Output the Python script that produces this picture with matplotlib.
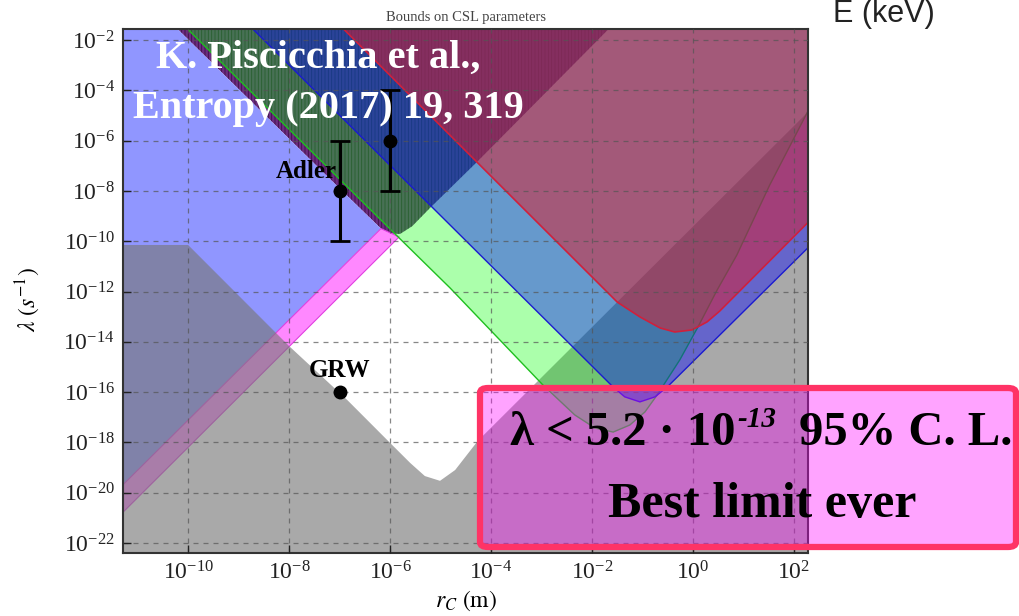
import numpy as np
import matplotlib.pyplot as plt
from matplotlib.patches import FancyBboxPatch

plt.rcParams["font.family"] = "serif"
plt.rcParams["font.serif"] = ["Liberation Serif", "DejaVu Serif"]
plt.rcParams["mathtext.fontset"] = "stix"
plt.rcParams["hatch.linewidth"] = 0.6

# region boundaries, log10 r_C (m) / log10 lambda (1/s)
interf_logr = [-11.0, -7.0, -6.18, -6.0, -5.8, -5.56, -5.21, -4.28, -0.9]
interf_logl = [0.0, -7.9, -9.5, -9.7, -9.71, -9.4, -8.68, -6.85, 0.0]
xray_old_logr = [-12.0, -11.0, -7.0, -6.18, -12.0]
xray_old_logl = [0.0, 0.0, -7.9, -9.5, -21.1]
xray_new_logr = [-12.0, -6.18, -5.82, -12.0]
xray_new_logl = [-21.1, -9.5, -9.83, -22.2]
theory_logr = [-12.0, -10.0, -8.0, -6.85, -6.02, -5.6, -5.31, -5.01, -4.71, -4.26, 3.0, 3.0, -12.0]
theory_logl = [-10.15, -10.15, -14.17, -16.31, -17.98, -18.82, -19.34, -19.53, -19.1, -17.94, -3.42, -24.0, -24.0]
auriga_logr = [-10.8, -5.84, -4.81, -2.97, -2.34, -1.94, -1.58, -1.25, -0.95, -0.71, -0.26,
               0.10, 0.48, 0.87, 1.52, 2.26, 3.0, 3.0]
auriga_logl = [0.0, -9.83, -11.86, -15.72, -16.91, -17.43, -17.59, -17.31, -16.79, -16.12, -14.72,
               -13.41, -11.94, -10.55, -7.77, -4.90, -1.94, 0.0]
ligo_logr = [-9.5, -1.58, -1.35, -1.05, -0.75, -0.51, 3.0, 3.0]
ligo_logl = [0.0, -15.8, -16.19, -16.39, -16.19, -15.8, -8.83, 0.0]
lisa_logr = [-7.7, -4.28, -1.5, -1.05, -0.65, -0.36, -0.02, 0.28, 0.53, 3.0, 3.0]
lisa_logl = [0.0, -6.85, -12.42, -13.01, -13.45, -13.61, -13.53, -13.21, -12.78, -7.8, 0.0]

adler_rc = [1e-7, 1e-6]
adler_lam = [1e-8, 1e-6]
adler_lo = [1e-10, 1e-8]
adler_hi = [1e-6, 1e-4]
grw_rc = [1e-7]
grw_lam = [1e-16]

xtick_exp = [-10, -8, -6, -4, -2, 0, 2]
ytick_exp = [-22, -20, -18, -16, -14, -12, -10, -8, -6, -4, -2]


def region(ax, logr, logl, **kw):
    ax.fill(10.0 ** np.array(logr), 10.0 ** np.array(logl), **kw)


W, H = 1019, 616
fig = plt.figure(figsize=(W / 100, H / 100), dpi=100)
ax = fig.add_axes([123 / W, 1 - 553 / H, 685 / W, 524 / H])
ax.set_xscale("log")
ax.set_yscale("log")

region(ax, interf_logr, interf_logl, facecolor="#6c2c80", edgecolor="none")
region(ax, interf_logr, interf_logl, facecolor="none", edgecolor=(0.15, 0.02, 0.18, 0.7),
       hatch="|||||", linewidth=0)
region(ax, xray_old_logr, xray_old_logl, facecolor="#9096ff", edgecolor="none")
region(ax, xray_new_logr, xray_new_logl, facecolor="#ff88ff", edgecolor="#e040e0", linewidth=0.8)
region(ax, theory_logr, theory_logl, facecolor=(0.467, 0.467, 0.467, 0.63), edgecolor="none")
region(ax, auriga_logr, auriga_logl, facecolor=(0, 1, 0, 0.33), edgecolor="#1fbf1f", linewidth=1.0)
region(ax, ligo_logr, ligo_logl, facecolor=(0, 0, 1, 0.4), edgecolor="#1a1ad0", linewidth=1.0)
region(ax, lisa_logr, lisa_logl, facecolor=(0.878, 0.106, 0.157, 0.5), edgecolor="#d0203c", linewidth=1.2)

yerr = [np.array(adler_lam) - np.array(adler_lo), np.array(adler_hi) - np.array(adler_lam)]
ax.errorbar(adler_rc, adler_lam, yerr=yerr, fmt="o", color="black", ms=9, elinewidth=2.2,
            capsize=7, capthick=2, zorder=5)
ax.plot(grw_rc, grw_lam, "o", color="black", ms=9, zorder=5)
ax.text(10 ** -7.05, 10 ** -7.5, "Adler", fontsize=18, fontweight="bold", ha="right", va="baseline", zorder=6)
ax.text(1e-7, 10 ** -15.4, "GRW", fontsize=18, fontweight="bold", ha="center", va="baseline", zorder=6)

ax.set_xlim(10 ** -11.29, 10 ** 2.28)
ax.set_ylim(10 ** -22.4, 10 ** -1.56)
ax.set_xticks([10.0 ** e for e in xtick_exp])
ax.set_yticks([10.0 ** e for e in ytick_exp])
ax.minorticks_off()
ax.tick_params(direction="in", length=6, width=1, labelsize=17, colors="#222222", pad=6)
ax.set_axisbelow(False)
ax.grid(True, color="#555555", linestyle=(0, (4, 4)), linewidth=0.9, alpha=0.7)
for s in ax.spines.values():
    s.set_color("#333333")
    s.set_linewidth(1.5)

fig.text(466 / W, 1 - 17 / H, "Bounds on CSL parameters", fontsize=10.5, color="#444444",
         ha="center", va="center")
fig.text(833 / W, 1 - 22 / H, "E (keV)", family="Liberation Sans", fontsize=22,
         color="#222222", ha="left", va="baseline")
fig.text(28 / W, 1 - 300 / H, r"$\lambda\ (s^{-1})$", rotation=90, fontsize=17,
         ha="center", va="center")
fig.text(466 / W, 1 - 601 / H, r"$r_C\ (\mathrm{m})$", fontsize=17, ha="center", va="center")

fig.text(318 / W, 1 - 68 / H, "K. Piscicchia et al.,", fontsize=29, fontweight="bold",
         color="white", ha="center", va="baseline", zorder=6)
fig.text(328 / W, 1 - 118 / H, "Entropy (2017) 19, 319", fontsize=29, fontweight="bold",
         color="white", ha="center", va="baseline", zorder=6)

box = FancyBboxPatch((480 / W, 1 - 547 / H), 536 / W, 159 / H,
                     boxstyle="round,pad=0,rounding_size=0.008", transform=fig.transFigure,
                     facecolor=(1, 0, 1, 0.36), edgecolor="#ff3366", linewidth=4.5, zorder=3)
fig.add_artist(box)
fig.text(510 / W, 1 - 445 / H, "λ < 5.2 · 10", fontsize=35, fontweight="bold",
         ha="left", va="baseline", zorder=4)
fig.text(737 / W, 1 - 427 / H, "-13", fontsize=21, fontweight="bold", fontstyle="italic",
         ha="left", va="baseline", zorder=4)
fig.text(1012 / W, 1 - 445 / H, "95% C. L.", fontsize=35, fontweight="bold",
         ha="right", va="baseline", zorder=4)
fig.text(762 / W, 1 - 517 / H, "Best limit ever", fontsize=36, fontweight="bold",
         ha="center", va="baseline", zorder=4)

fig.savefig("out.png", dpi=100)
